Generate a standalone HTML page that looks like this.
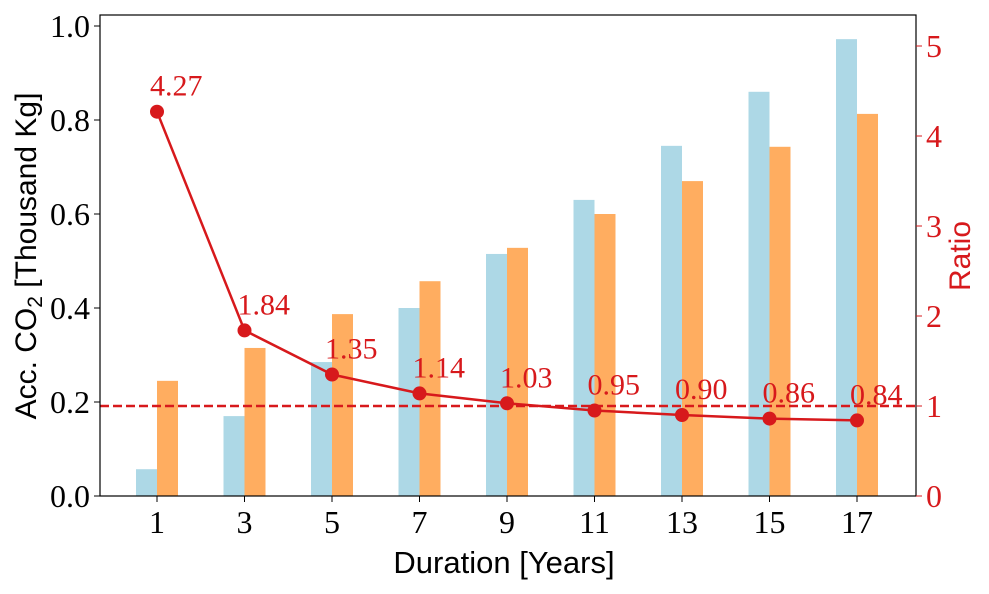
<!DOCTYPE html>
<html><head><meta charset="utf-8"><style>
body{margin:0;background:#fff;}
svg text{font-family:"Liberation Serif",serif;}
.lab{font-family:"Liberation Sans","DejaVu Sans",sans-serif;}
</style></head><body>
<svg id="c" width="989" height="589" xmlns="http://www.w3.org/2000/svg"></svg>
<script>
const categories=[1,3,5,7,9,11,13,15,17];
const blueValues=[0.057,0.170,0.285,0.400,0.515,0.630,0.745,0.860,0.972];
const orangeValues=[0.245,0.315,0.387,0.457,0.528,0.600,0.670,0.743,0.813];
const ratioValues=[4.27,1.84,1.35,1.14,1.03,0.95,0.90,0.86,0.84];
const leftTicks=[0,0.2,0.4,0.6,0.8,1.0];
const rightTicks=[0,1,2,3,4,5];
const NS="http://www.w3.org/2000/svg";
const svg=document.getElementById('c');
const L=100,R=916,T=15,B=496;
const RED='#d7191c';
const xS=i=>157+i*87.5;
const yL=v=>B-v*470;
const yR=v=>B-v*90;
function mk(tag,attrs,parent){const e=document.createElementNS(NS,tag);for(const k in attrs)e.setAttribute(k,attrs[k]);(parent||svg).appendChild(e);return e;}
const bw=21;
categories.forEach((c,i)=>{
 let b=mk('rect',{x:xS(i)-bw,y:yL(blueValues[i]),width:bw,height:B-yL(blueValues[i]),fill:'#add8e6'});
 
 
 let o=mk('rect',{x:xS(i),y:yL(orangeValues[i]),width:bw,height:B-yL(orangeValues[i]),fill:'#ffad60'});
 
 
});
let ref=mk('line',{x1:L,x2:R,y1:yR(1),y2:yR(1),stroke:RED,'stroke-width':2.5,'stroke-dasharray':'9,4'});


let pts=ratioValues.map((v,i)=>xS(i)+','+yR(v)).join(' ');
let pl=mk('polyline',{points:pts,fill:'none',stroke:RED,'stroke-width':2.5});


ratioValues.forEach((v,i)=>{
 let p=mk('circle',{cx:xS(i),cy:yR(v),r:7,fill:RED});
 
 
 let t=mk('text',{x:xS(i)-7,y:yR(v)-16,'font-size':30,fill:RED});
 t.textContent=v.toFixed(2);
 
 
});
let fr=mk('rect',{x:L,y:T,width:R-L,height:B-T,fill:'none',stroke:'#000','stroke-width':1.2});


leftTicks.forEach(v=>{
 mk('line',{x1:L-6,x2:L,y1:yL(v),y2:yL(v),stroke:'#000'});
 let t=mk('text',{x:L-10,y:yL(v)+11,'font-size':32,'text-anchor':'end'});
 t.textContent=v.toFixed(1);
 
 
});
rightTicks.forEach(v=>{
 mk('line',{x1:R,x2:R+6,y1:yR(v),y2:yR(v),stroke:RED});
 let t=mk('text',{x:R+10,y:yR(v)+11,'font-size':32,fill:RED});
 t.textContent=v;
 
 
});
categories.forEach((c,i)=>{
 mk('line',{x1:xS(i),x2:xS(i),y1:B,y2:B+6,stroke:'#000'});
 let t=mk('text',{x:xS(i),y:B+37,'font-size':32,'text-anchor':'middle'});
 t.textContent=c;
 
 
});
</script>
<svg width="989" height="589" style="position:absolute;left:0;top:0" xmlns="http://www.w3.org/2000/svg">
<text class="lab" x="504" y="573" font-size="31" text-anchor="middle">Duration [Years]</text>
<text class="lab" transform="translate(36,256) rotate(-90)" font-size="30" text-anchor="middle">Acc. CO<tspan font-size="21" dy="6">2</tspan><tspan dy="-6"> [Thousand Kg]</tspan></text>
<text class="lab" transform="translate(970,256) rotate(-90)" font-size="30" text-anchor="middle" fill="#d7191c">Ratio</text>
</svg>
</body></html>
